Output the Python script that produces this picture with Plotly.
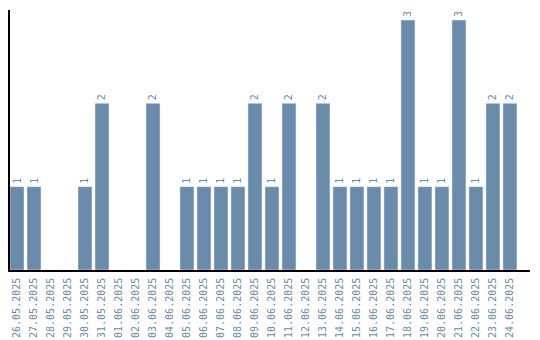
import plotly.graph_objects as go

dates = ["26.05.2025", "27.05.2025", "28.05.2025", "29.05.2025", "30.05.2025",
         "31.05.2025", "01.06.2025", "02.06.2025", "03.06.2025", "04.06.2025",
         "05.06.2025", "06.06.2025", "07.06.2025", "08.06.2025", "09.06.2025",
         "10.06.2025", "11.06.2025", "12.06.2025", "13.06.2025", "14.06.2025",
         "15.06.2025", "16.06.2025", "17.06.2025", "18.06.2025", "19.06.2025",
         "20.06.2025", "21.06.2025", "22.06.2025", "23.06.2025", "24.06.2025"]
counts = [1, 1, 0, 0, 1, 2, 0, 0, 2, 0, 1, 1, 1, 1, 2, 1, 2, 0, 2, 1,
          1, 1, 1, 3, 1, 1, 3, 1, 2, 2]

bar_color = "#6a8baa"
text_color = "#6a8baa"

labels = [str(v) if v > 0 else "" for v in counts]

fig = go.Figure(go.Bar(
    x=dates, y=counts,
    marker_color=bar_color,
    text=labels,
    textposition="outside",
    textangle=-90,
    textfont=dict(family="DejaVu Sans Mono", size=10, color=text_color),
    cliponaxis=False,
))

fig.update_layout(
    width=540, height=340,
    margin=dict(l=10, r=10, t=10, b=70),
    paper_bgcolor="white", plot_bgcolor="white",
    bargap=3 / 17,
    showlegend=False,
    xaxis=dict(
        type="category",
        range=[-0.412, 30.18],
        automargin=False,
        showgrid=False, zeroline=False,
        showline=True, linecolor="black", linewidth=1.5,
        ticks="", tickangle=-90, ticklabelstandoff=2,
        tickfont=dict(family="DejaVu Sans Mono", size=10, color=text_color),
    ),
    yaxis=dict(
        range=[0, 3.12],
        automargin=False,
        showgrid=False, zeroline=False,
        showline=True, linecolor="black", linewidth=1.5,
        ticks="", showticklabels=False,
    ),
)

fig.write_html("out.html")
